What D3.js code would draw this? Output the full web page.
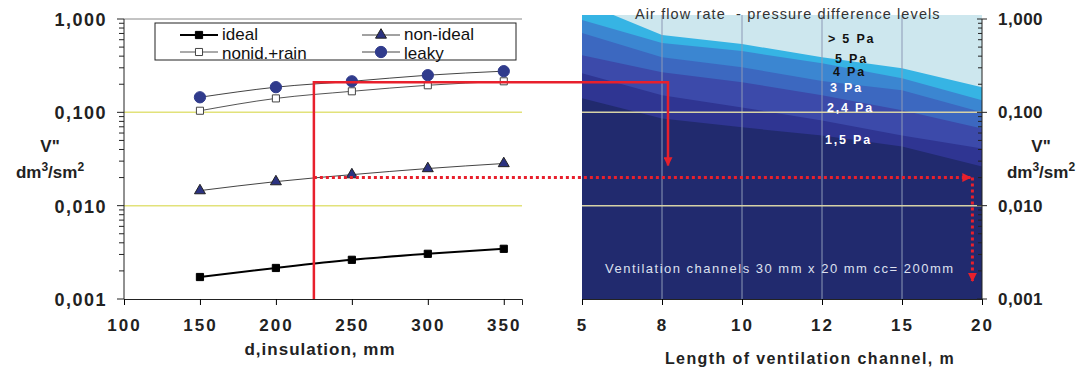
<!DOCTYPE html>
<html>
<head>
<meta charset="utf-8">
<script src="https://cdn.jsdelivr.net/npm/d3@7"></script>
<style>
  body { margin: 0; background: #fff; }
  svg { display: block; font-family: Arial, "Liberation Sans", sans-serif; }
</style>
</head>
<body>
<svg id="chart" width="1083" height="369"></svg>
<script>
// left chart: flow vs insulation thickness
const insulation = [150, 200, 250, 300, 350];
const ideal = [0.00172, 0.00215, 0.00263, 0.00305, 0.00345];
const nonIdeal = [0.0145, 0.0181, 0.0215, 0.025, 0.0283];
const nonidRain = [0.104, 0.141, 0.168, 0.195, 0.215];
const leaky = [0.145, 0.186, 0.215, 0.25, 0.276];
const insulationTicks = [100, 150, 200, 250, 300, 350];

// right chart: pressure difference levels vs channel length
const channelLength = [5, 8, 10, 12, 15, 20];
const level5 = [1.52, 0.673, 0.539, 0.390, 0.297, 0.186];
const level4 = [0.975, 0.552, 0.453, 0.336, 0.232, 0.135];
const level3 = [0.707, 0.390, 0.305, 0.216, 0.172, 0.100];
const level24 = [0.41, 0.269, 0.210, 0.152, 0.105, 0.0673];
const level15 = [0.263, 0.152, 0.113, 0.082, 0.0566, 0.041];
const level1 = [0.1415, 0.086, 0.069, 0.0566, 0.043, 0.0263];
const levelNames = ["> 5 Pa", "5 Pa", "4 Pa", "3 Pa", "2,4 Pa", "1,5 Pa"];

const flowTicks = [0.001, 0.01, 0.1, 1];

// reading example (red arrows)
const readInsulation = 225;
const readFlow = 0.21;
const readLength = 8.15;
const readArrowEnd = 0.027;
const resultFlow = 0.02;
const resultLength = 19.4;
const resultEnd = 0.00156;

const svg = d3.select("#chart");
const plotTop = 19, plotBottom = 299;

const y = d3.scaleLog().domain([0.001, 1]).range([plotBottom, plotTop]);
const xL = d3.scaleLinear().domain([100, 362]).range([124, 522]);
const xR = d3.scalePoint().domain(channelLength).range([582, 982]);
const xRlin = d3.scaleLinear().domain(channelLength).range(channelLength.map(d => xR(d)));

const fmt = d3.formatLocale({ decimal: ",", thousands: ".", grouping: [3], currency: ["", ""] }).format(".3f");

// ---------- right panel: stacked level areas ----------
svg.append("clipPath").attr("id", "rclip")
  .append("rect").attr("x", 582).attr("y", plotTop - 4).attr("width", 400).attr("height", plotBottom - plotTop + 4);

const right = svg.append("g").attr("clip-path", "url(#rclip)");
right.append("rect").attr("x", 582).attr("y", plotTop - 4).attr("width", 400)
  .attr("height", plotBottom - plotTop + 4).attr("fill", "#cde7ee");

const levels = [level5, level4, level3, level24, level15, level1];
const bandColors = ["#36b4e4", "#3b86d1", "#3c68c0", "#3c4aaa", "#2f3592", "#212a6e"];

const area = d3.area()
  .x((d, i) => xR(channelLength[i]))
  .y0(plotBottom)
  .y1(d => y(d));

right.selectAll("path.band")
  .data(levels)
  .enter().append("path")
  .attr("class", "band")
  .attr("d", area)
  .attr("fill", (d, i) => bandColors[i]);

// vertical grid lines
right.selectAll("line.vgrid")
  .data(channelLength.slice(1, -1))
  .enter().append("line")
  .attr("x1", d => xR(d)).attr("x2", d => xR(d))
  .attr("y1", plotTop - 4).attr("y2", plotBottom)
  .attr("stroke", "#8d99b6").attr("stroke-width", 1);

// horizontal grid lines
[0.1, 0.01].forEach(v => {
  svg.append("line")
    .attr("x1", xL.range()[0]).attr("x2", xL.range()[1])
    .attr("y1", y(v)).attr("y2", y(v))
    .attr("stroke", "#e2e27a").attr("stroke-width", 1.5);
  svg.append("line")
    .attr("x1", 582).attr("x2", 982)
    .attr("y1", y(v)).attr("y2", y(v))
    .attr("stroke", "#d6d2a6").attr("stroke-width", 1.5);
});

// level labels placed near the 12 m line
const labelOffsets = [-14, 0, -5, -3, -8, 9];
const labelShift = [6, 13, 11, 8, 5, 3];
const labelFill = ["#111", "#111", "#111", "#fff", "#fff", "#fff"];
levelNames.forEach((name, i) => {
  svg.append("text")
    .attr("x", xR(12) + labelShift[i])
    .attr("y", y(levels[i][3]) + labelOffsets[i])
    .attr("fill", labelFill[i])
    .attr("font-size", 12.5).attr("font-weight", "bold")
    .attr("letter-spacing", 1.8)
    .text(name);
});

svg.append("text")
  .attr("x", 635).attr("y", 19)
  .attr("font-size", 14.5).attr("fill", "#333").attr("letter-spacing", 1.1)
  .style("white-space", "pre")
  .text("Air flow rate  - pressure difference levels");

svg.append("text")
  .attr("x", 605).attr("y", 273)
  .attr("font-size", 13).attr("fill", "#dde0ee").attr("letter-spacing", 1.5)
  .text("Ventilation channels 30 mm x 20 mm cc= 200mm");

// right axes
const axisR = svg.append("g").attr("transform", "translate(0," + plotBottom + ")")
  .call(d3.axisBottom(xR).tickSize(6).tickPadding(14));
axisR.select(".domain").attr("stroke", "#222");
axisR.selectAll("text").attr("font-size", 17).attr("font-weight", "bold").attr("fill", "#222")
  .attr("font-family", "Arial, 'Liberation Sans', sans-serif").attr("letter-spacing", 2);

const rAxis = svg.append("g").attr("transform", "translate(982,0)");
rAxis.append("line").attr("y1", plotTop).attr("y2", plotBottom).attr("stroke", "#222");
rAxis.selectAll("line.minor")
  .data(y.ticks())
  .enter().append("line")
  .attr("x1", d => flowTicks.includes(d) ? -5 : -4).attr("x2", d => flowTicks.includes(d) ? 5 : 0)
  .attr("y1", d => y(d)).attr("y2", d => y(d))
  .attr("stroke", "#222");
rAxis.selectAll("text.tl")
  .data(flowTicks)
  .enter().append("text")
  .attr("x", 16).attr("y", d => y(d) + 6)
  .attr("font-size", 17).attr("font-weight", "bold").attr("fill", "#222").attr("letter-spacing", 0.5)
  .text(d => fmt(d));

// ---------- left panel ----------
svg.append("line")
  .attr("x1", xL.range()[0]).attr("x2", xL.range()[1])
  .attr("y1", plotTop).attr("y2", plotTop)
  .attr("stroke", "#888");

const axisB = svg.append("g").attr("transform", "translate(0," + plotBottom + ")")
  .call(d3.axisBottom(xL).tickValues(insulationTicks).tickSize(6).tickPadding(14));
axisB.select(".domain").attr("stroke", "#222");
axisB.selectAll("text").attr("font-size", 17).attr("font-weight", "bold").attr("fill", "#222")
  .attr("font-family", "Arial, 'Liberation Sans', sans-serif").attr("letter-spacing", 2);

const lAxis = svg.append("g").attr("transform", "translate(124,0)");
lAxis.append("line").attr("y1", plotTop).attr("y2", plotBottom).attr("stroke", "#222");
lAxis.selectAll("line.minor")
  .data(y.ticks())
  .enter().append("line")
  .attr("x1", d => flowTicks.includes(d) ? -7 : -5).attr("x2", 0)
  .attr("y1", d => y(d)).attr("y2", d => y(d))
  .attr("stroke", "#222");
lAxis.selectAll("text.tl")
  .data(flowTicks)
  .enter().append("text")
  .attr("x", -17).attr("y", d => y(d) + 7)
  .attr("text-anchor", "end")
  .attr("font-size", 18).attr("font-weight", "bold").attr("fill", "#222").attr("letter-spacing", 1.5)
  .text(d => fmt(d));

// y titles
function yTitle(cx) {
  svg.append("text").attr("x", cx).attr("y", 152).attr("text-anchor", "middle")
    .attr("font-size", 17).attr("font-weight", "bold").attr("fill", "#222").text("V\"");
  const t = svg.append("text").attr("x", cx).attr("y", 178).attr("text-anchor", "middle")
    .attr("font-size", 17).attr("font-weight", "bold").attr("fill", "#222");
  t.append("tspan").text("dm");
  t.append("tspan").attr("dy", -7).attr("font-size", 12).text("3");
  t.append("tspan").attr("dy", 7).text("/sm");
  t.append("tspan").attr("dy", -7).attr("font-size", 12).text("2");
}
yTitle(50);
yTitle(1041);

// x titles
svg.append("text").attr("x", 320).attr("y", 355).attr("text-anchor", "middle")
  .attr("font-size", 17).attr("font-weight", "bold").attr("fill", "#222").attr("letter-spacing", 1)
  .text("d,insulation, mm");
svg.append("text").attr("x", 810).attr("y", 364).attr("text-anchor", "middle")
  .attr("font-size", 16).attr("font-weight", "bold").attr("fill", "#222").attr("letter-spacing", 1.4)
  .text("Length of ventilation channel, m");

// series
const series = [
  { name: "ideal", values: ideal, symbol: d3.symbolSquare, size: 52, fill: "#000", stroke: "#000", line: "#000", width: 2 },
  { name: "non-ideal", values: nonIdeal, symbol: d3.symbolTriangle, size: 52, fill: "#2b3280", stroke: "#222", line: "#444", width: 1 },
  { name: "nonid.+rain", values: nonidRain, symbol: d3.symbolSquare, size: 50, fill: "#fff", stroke: "#444", line: "#555", width: 1 },
  { name: "leaky", values: leaky, symbol: d3.symbolCircle, size: 100, fill: "#303b8c", stroke: "#303b8c", line: "#444", width: 1 }
];

const line = d3.line()
  .x((d, i) => xL(insulation[i]))
  .y(d => y(d))
  .curve(d3.curveMonotoneX);

series.forEach(s => {
  svg.append("path")
    .attr("d", line(s.values))
    .attr("fill", "none").attr("stroke", s.line).attr("stroke-width", s.width);
  svg.selectAll(null)
    .data(s.values)
    .enter().append("path")
    .attr("transform", (d, i) => "translate(" + xL(insulation[i]) + "," + y(d) + ")")
    .attr("d", d3.symbol().type(s.symbol).size(s.size))
    .attr("fill", s.fill).attr("stroke", s.stroke).attr("stroke-width", 1);
});

// legend
const legend = svg.append("g");
legend.append("rect").attr("x", 155).attr("y", 23).attr("width", 361).attr("height", 37)
  .attr("fill", "#fff").attr("stroke", "#222").attr("stroke-width", 1);
const legendPos = [[180, 35], [362, 35], [180, 52], [362, 52]];
series.forEach((s, i) => {
  const [lx, ly] = legendPos[i];
  legend.append("line").attr("x1", lx).attr("x2", lx + 38).attr("y1", ly).attr("y2", ly)
    .attr("stroke", s.line).attr("stroke-width", s.width);
  legend.append("path")
    .attr("transform", "translate(" + (lx + 19) + "," + ly + ")")
    .attr("d", d3.symbol().type(s.symbol).size(s.size))
    .attr("fill", s.fill).attr("stroke", s.stroke);
  legend.append("text").attr("x", lx + 42).attr("y", ly + (i < 2 ? 5 : 7))
    .attr("font-size", 17).attr("fill", "#111").text(s.name);
});

// ---------- reading arrows ----------
const defs = svg.append("defs");
function arrow(id, w, h) {
  defs.append("marker").attr("id", id)
    .attr("viewBox", "0 0 10 10").attr("refX", 9).attr("refY", 5)
    .attr("markerUnits", "userSpaceOnUse")
    .attr("markerWidth", w).attr("markerHeight", h)
    .attr("orient", "auto")
    .append("path").attr("d", "M0,0 L10,5 L0,10 z").attr("fill", "#e8202c");
}
arrow("arrSolid", 12, 9);
arrow("arrDot", 10, 9);

svg.append("path")
  .attr("d", "M" + xL(readInsulation) + "," + y(0.001) +
             "V" + y(readFlow) + "H" + xRlin(readLength) + "V" + y(readArrowEnd))
  .attr("fill", "none").attr("stroke", "#e8202c").attr("stroke-width", 2.5)
  .attr("marker-end", "url(#arrSolid)");

svg.append("path")
  .attr("d", "M" + xL(readInsulation) + "," + y(resultFlow) + "H" + (xRlin(resultLength) - 2))
  .attr("fill", "none").attr("stroke", "#e8202c").attr("stroke-width", 3)
  .attr("stroke-dasharray", "3,3")
  .attr("marker-end", "url(#arrDot)");
svg.append("path")
  .attr("d", "M" + xRlin(resultLength) + "," + y(resultFlow) + "V" + y(resultEnd))
  .attr("fill", "none").attr("stroke", "#e8202c").attr("stroke-width", 3)
  .attr("stroke-dasharray", "3,3")
  .attr("marker-end", "url(#arrDot)");
</script>
</body>
</html>
